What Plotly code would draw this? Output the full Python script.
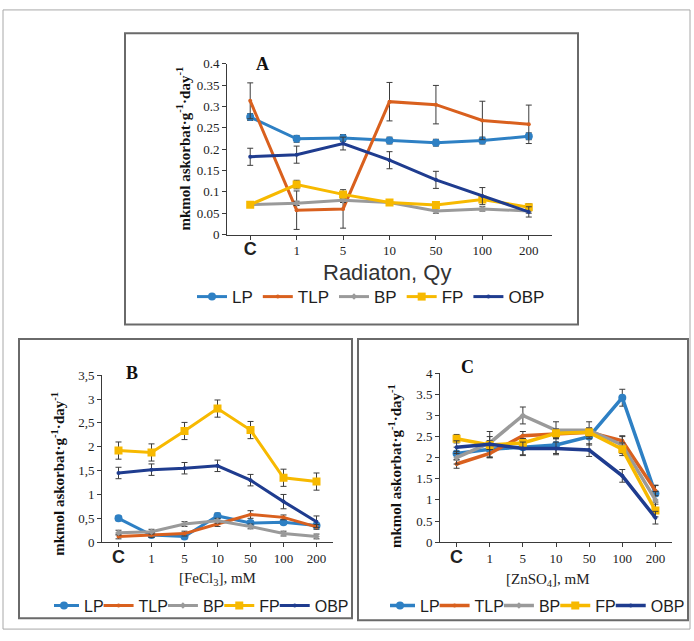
import plotly.graph_objects as go

W, H = 694, 641

categories = ["C", "1", "5", "10", "50", "100", "200"]
series_names = ["LP", "TLP", "BP", "FP", "OBP"]
colors = {"LP": "#2E80C4", "TLP": "#D9601E", "BP": "#9A9A9A", "FP": "#F7B900", "OBP": "#1F3C8F"}
symbols = {"LP": "circle", "TLP": "circle", "BP": "diamond", "FP": "square", "OBP": "circle"}
msizes = {"LP": 8, "TLP": 4, "BP": 5, "FP": 8, "OBP": 4}

# Panel A: Radiation
a_LP = [0.275, 0.224, 0.226, 0.220, 0.215, 0.220, 0.230]
a_TLP = [0.313, 0.057, 0.060, 0.311, 0.304, 0.267, 0.258]
a_BP = [0.070, 0.073, 0.080, 0.075, 0.055, 0.060, 0.055]
a_FP = [0.070, 0.117, 0.094, 0.075, 0.069, 0.082, 0.064]
a_OBP = [0.182, 0.187, 0.213, 0.174, 0.128, 0.090, 0.053]
a_err_LP = [0.008, 0.008, 0.008, 0.008, 0.008, 0.008, 0.008]
a_err_TLP = [0.042, 0.045, 0.045, 0.045, 0.045, 0.045, 0.045]
a_err_BP = [0.005, 0.005, 0.005, 0.005, 0.005, 0.005, 0.005]
a_err_FP = [0.005, 0.010, 0.006, 0.005, 0.005, 0.005, 0.008]
a_err_OBP = [0.020, 0.020, 0.015, 0.020, 0.020, 0.020, 0.012]

# Panel B: FeCl3
b_LP = [0.50, 0.15, 0.12, 0.55, 0.40, 0.42, 0.35]
b_TLP = [0.12, 0.15, 0.18, 0.38, 0.58, 0.52, 0.32]
b_BP = [0.20, 0.22, 0.38, 0.45, 0.33, 0.18, 0.12]
b_FP = [1.92, 1.88, 2.33, 2.80, 2.35, 1.35, 1.27]
b_OBP = [1.45, 1.52, 1.55, 1.60, 1.30, 0.85, 0.43]
b_err_LP = [0.05, 0.05, 0.05, 0.06, 0.05, 0.05, 0.05]
b_err_TLP = [0.05, 0.05, 0.05, 0.05, 0.08, 0.05, 0.05]
b_err_BP = [0.05, 0.05, 0.05, 0.05, 0.05, 0.05, 0.05]
b_err_FP = [0.18, 0.18, 0.18, 0.18, 0.18, 0.18, 0.18]
b_err_OBP = [0.12, 0.12, 0.12, 0.12, 0.12, 0.15, 0.12]

# Panel C: ZnSO4
c_LP = [2.10, 2.20, 2.25, 2.30, 2.50, 3.42, 1.15]
c_TLP = [1.85, 2.10, 2.52, 2.55, 2.60, 2.40, 1.22]
c_BP = [2.00, 2.35, 3.00, 2.65, 2.65, 2.30, 1.00]
c_FP = [2.45, 2.30, 2.35, 2.58, 2.60, 2.20, 0.75]
c_OBP = [2.25, 2.32, 2.22, 2.22, 2.18, 1.57, 0.58]
c_err_LP = [0.15, 0.20, 0.20, 0.20, 0.20, 0.20, 0.20]
c_err_TLP = [0.10, 0.10, 0.10, 0.10, 0.10, 0.12, 0.12]
c_err_BP = [0.15, 0.15, 0.20, 0.20, 0.20, 0.20, 0.20]
c_err_FP = [0.10, 0.10, 0.10, 0.10, 0.10, 0.15, 0.15]
c_err_OBP = [0.15, 0.30, 0.15, 0.15, 0.15, 0.15, 0.15]

b_ticks = [0, 0.5, 1, 1.5, 2, 2.5, 3, 3.5]
b_ticktext = ["0", "0,5", "1", "1,5", "2", "2,5", "3", "3,5"]

panels = [
    ("x", "y", "legend", {"LP": (a_LP, a_err_LP), "TLP": (a_TLP, a_err_TLP), "BP": (a_BP, a_err_BP),
                          "FP": (a_FP, a_err_FP), "OBP": (a_OBP, a_err_OBP)}, 3),
    ("x2", "y2", "legend2", {"LP": (b_LP, b_err_LP), "TLP": (b_TLP, b_err_TLP), "BP": (b_BP, b_err_BP),
                             "FP": (b_FP, b_err_FP), "OBP": (b_OBP, b_err_OBP)}, 3),
    ("x3", "y3", "legend3", {"LP": (c_LP, c_err_LP), "TLP": (c_TLP, c_err_TLP), "BP": (c_BP, c_err_BP),
                             "FP": (c_FP, c_err_FP), "OBP": (c_OBP, c_err_OBP)}, 3.5),
]

fig = go.Figure()
for xa, ya, lg, data, lw in panels:
    for name in series_names:
        vals, err = data[name]
        fig.add_trace(go.Scatter(
            x=categories, y=vals, name=name, mode="lines+markers",
            xaxis=xa, yaxis=ya, legend=lg,
            line=dict(color=colors[name], width=lw),
            marker=dict(symbol=symbols[name], size=msizes[name], color=colors[name]),
            error_y=dict(type="data", array=err, visible=True, color="#3c3c3c", thickness=1, width=3),
        ))


def px(x):
    return x / W


def py(y):
    return 1 - y / H


c_label = "<span style='font-family:Liberation Sans;font-size:18px'><b>C</b></span>"
xticktext = [c_label] + categories[1:]
tickfont = dict(family="Liberation Serif", size=13, color="#222222")
axis_common = dict(showline=True, linecolor="#3a3a3a", linewidth=1, ticks="outside", ticklen=4,
                   tickcolor="#3a3a3a", showgrid=False, zeroline=False, tickfont=tickfont)

fig.update_layout(
    width=W, height=H, margin=dict(l=0, r=0, t=0, b=0), autosize=False,
    paper_bgcolor="white", plot_bgcolor="white", showlegend=True,
    xaxis=dict(domain=[px(227), px(552)], anchor="y", type="category", range=[-0.5, 6.5],
               tickvals=categories, ticktext=xticktext, **axis_common),
    yaxis=dict(domain=[py(233), py(58)], anchor="x", range=[0, 0.4], dtick=0.05, **axis_common),
    xaxis2=dict(domain=[px(102), px(333)], anchor="y2", type="category", range=[-0.5, 6.5],
                tickvals=categories, ticktext=xticktext, **axis_common),
    yaxis2=dict(domain=[py(548), py(377)], anchor="x2", range=[0, 3.5], tickvals=b_ticks,
                ticktext=b_ticktext, **axis_common),
    xaxis3=dict(domain=[px(440), px(672)], anchor="y3", type="category", range=[-0.5, 6.5],
                tickvals=categories, ticktext=xticktext, **axis_common),
    yaxis3=dict(domain=[py(548), py(375)], anchor="x3", range=[0, 4], dtick=0.5, **axis_common),
    legend=dict(orientation="h", x=px(371), y=py(297), xanchor="center", yanchor="middle",
                font=dict(family="Liberation Sans", size=17, color="#1e1e1e"), bgcolor="rgba(0,0,0,0)"),
    legend2=dict(orientation="h", x=px(204), y=py(613), xanchor="center", yanchor="middle",
                 indentation=-10,
                 font=dict(family="Liberation Sans", size=16, color="#1e1e1e"), bgcolor="rgba(0,0,0,0)"),
    legend3=dict(orientation="h", x=px(540), y=py(613), xanchor="center", yanchor="middle",
                 indentation=-10,
                 font=dict(family="Liberation Sans", size=16, color="#1e1e1e"), bgcolor="rgba(0,0,0,0)"),
)

ytitle = "mkmol askorbat·g<sup>-1</sup>·day<sup>-1</sup>"
serif_bold = dict(family="Liberation Serif", size=15, color="#111111")
letter_font = dict(family="Liberation Serif", size=18, color="#111111")
annotations = [
    dict(text="<b>A</b>", x=px(262), y=py(58), font=letter_font),
    dict(text="<b>B</b>", x=px(132), y=py(375), font=letter_font),
    dict(text="<b>C</b>", x=px(468), y=py(369), font=letter_font),
    dict(text="<b>" + ytitle + "</b>", x=px(183), y=py(145), textangle=-90, font=serif_bold),
    dict(text="<b>" + ytitle + "</b>", x=px(58), y=py(478), textangle=-90, font=serif_bold),
    dict(text="<b>" + ytitle + "</b>", x=px(395), y=py(470), textangle=-90, font=serif_bold),
    dict(text="Radiaton, Qy", x=px(387), y=py(272),
         font=dict(family="Liberation Sans", size=22, color="#333333")),
    dict(text="[FeCl<sub>3</sub>], mM", x=px(217), y=py(586),
         font=dict(family="Liberation Serif", size=15, color="#222222")),
    dict(text="[ZnSO<sub>4</sub>], mM", x=px(548), y=py(587),
         font=dict(family="Liberation Serif", size=15, color="#222222")),
]
for a in annotations:
    a.update(xref="paper", yref="paper", showarrow=False, xanchor="center", yanchor="middle")
fig.update_layout(annotations=annotations)

boxes = [
    (3, 3, 690, 637, "#a8a8a8", 1),
    (125, 27, 578, 325, "#6a6a6a", 2),
    (19, 340, 352, 626, "#6a6a6a", 2),
    (358, 340, 688, 628, "#6a6a6a", 2),
]
fig.update_layout(shapes=[
    dict(type="rect", xref="paper", yref="paper", x0=px(x0), x1=px(x1), y0=py(y1), y1=py(y0),
         line=dict(color=c, width=w), fillcolor="rgba(0,0,0,0)", layer="below")
    for x0, y0, x1, y1, c, w in boxes
])

fig.write_html("out.html")
